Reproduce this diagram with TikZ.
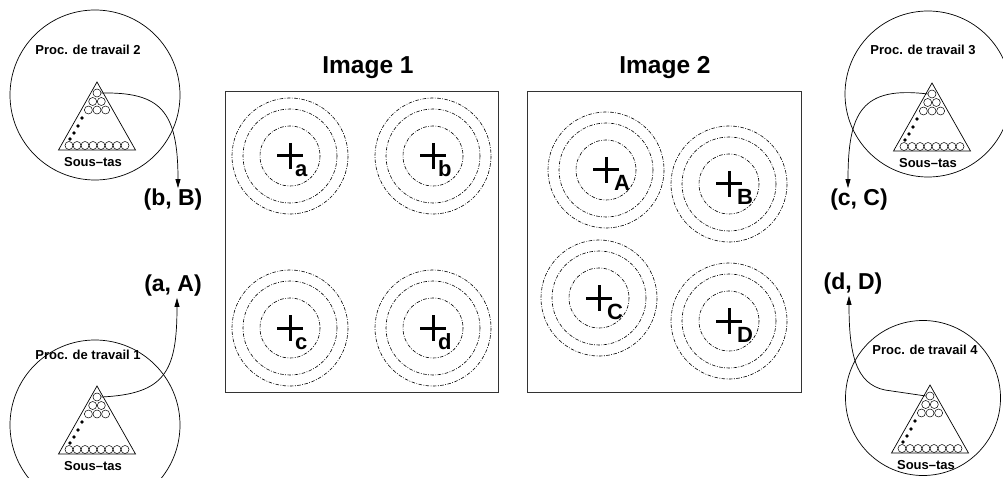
\documentclass[tikz,border=0pt]{standalone}
\usepackage{fontspec}
\setmainfont{Liberation Sans}
\usetikzlibrary{arrows.meta, positioning}

\begin{document}
\begin{tikzpicture}[
    x=1pt, y=-1pt,
    imgbox/.style={draw=black!80, line width=0.8pt, inner sep=0pt},
    worker/.style={draw, circle, line width=0.7pt, inner sep=0pt, minimum size=170pt},
    proclbl/.style={font=\bfseries\fontsize{13}{15}\selectfont},
    heaplbl/.style={font=\bfseries\fontsize{13}{15}\selectfont},
    title/.style={font=\bfseries\fontsize{24.5}{28}\selectfont},
    pairlbl/.style={font=\bfseries\fontsize{23}{26}\selectfont, inner sep=1pt},
    ptlbl/.style={font=\bfseries\fontsize{22}{24}\selectfont, inner sep=0pt, anchor=base west},
    ball/.style={draw, circle, line width=0.5pt, inner sep=0pt, minimum size=8pt},
    dotb/.style={fill, circle, inner sep=0pt, minimum size=3.6pt},
    ring/.style={line width=0.6pt, dash pattern=on 3.5pt off 1.5pt on 0.8pt off 1.5pt},
    crossmark/.style={line width=3pt},
    farr/.style={-{Triangle[length=9pt, width=5pt]}, line width=0.7pt},
]

\clip (0,0) rectangle (1003,478);

% ===== IMAGES =====
\node[imgbox, minimum width=273pt, minimum height=301pt] (img1) at (361.5,241.5) {};
\node[imgbox, minimum width=274pt, minimum height=301pt] (img2) at (664,241.5) {};
\node[title] (t1) at (368,68) {Image 1};
\node[title] (t2) at (665,68) {Image 2};

% points with their rings
\foreach \px/\py/\pl/\dx in {290/156/a/5, 433/156/b/5, 290/328/c/5, 433/328/d/5,
                             606/170/A/8, 729/184/B/8, 599/298/C/8, 729/321/D/8} {
    \foreach \rr in {30,47,58}
        \draw[ring] (\px,\py) circle[radius=\rr];
    \draw[crossmark] (\px-13,\py) -- (\px+13,\py) (\px,\py-13) -- (\px,\py+13);
    \node[ptlbl] (p\pl) at (\px+\dx,\py+21) {\pl};
}

% ===== WORKERS =====
\node[worker] (w2) at (95,95) {};
\node[worker] (w1) at (95,425) {};
\node[worker, minimum size=166pt] (w3) at (928,94) {};
\node[worker, minimum size=155pt] (w4) at (923,398) {};

\node[proclbl] at (88,50) {Proc. de travail 2};
\node[proclbl] at (88,355) {Proc. de travail 1};
\node[proclbl] at (923,50) {Proc. de travail 3};
\node[proclbl] at (925,350) {Proc. de travail 4};

% sub-heaps
\foreach \hx/\hy/\hn in {97/82/2, 97/386/1, 932/83/3, 930/385/4} {
    \begin{scope}[shift={(\hx,\hy)}]
        \draw[line width=0.7pt] (0,0) -- (-38.5,68) -- (38.5,68) -- cycle;
        \node[ball] (top\hn) at (0,11) {};
        \node[ball] at (-4.3,19.5) {};
        \node[ball] at (4.3,19.5) {};
        \foreach \bx in {-8.6,0,8.6}
            \node[ball] at (\bx,28) {};
        \foreach \bx in {-28,-20,...,28}
            \node[ball] at (\bx,63.5) {};
        \foreach \dx/\dy in {-15/36, -19/44, -23/51, -27/57}
            \node[dotb] at (\dx,\dy) {};
        \node[heaplbl] (heap\hn) at (-4,80) {Sous--tas};
    \end{scope}
}

% ===== PAIRS =====
\node[pairlbl] (pb) at (173,200) {(b, B)};
\node[pairlbl] (pa) at (173,286) {(a, A)};
\node[pairlbl] (pc) at (859,200) {(c, C)};
\node[pairlbl] (pd) at (853,284) {(d, D)};

\draw[farr] (top2.east) .. controls (160,92) and (178,110) .. ([xshift=5pt]pb.north);
\draw[farr] (top1.east) .. controls (165,394) and (177,372) .. ([xshift=4pt]pa.south);
\draw[farr] (top3.west) .. controls (862,86) and (848,112) .. ([xshift=-11pt]pc.north);
\draw[farr] (top4.west) -- (885,390) .. controls (855,384) and (849,352) .. ([xshift=-4pt]pd.south);

\end{tikzpicture}
\end{document}
